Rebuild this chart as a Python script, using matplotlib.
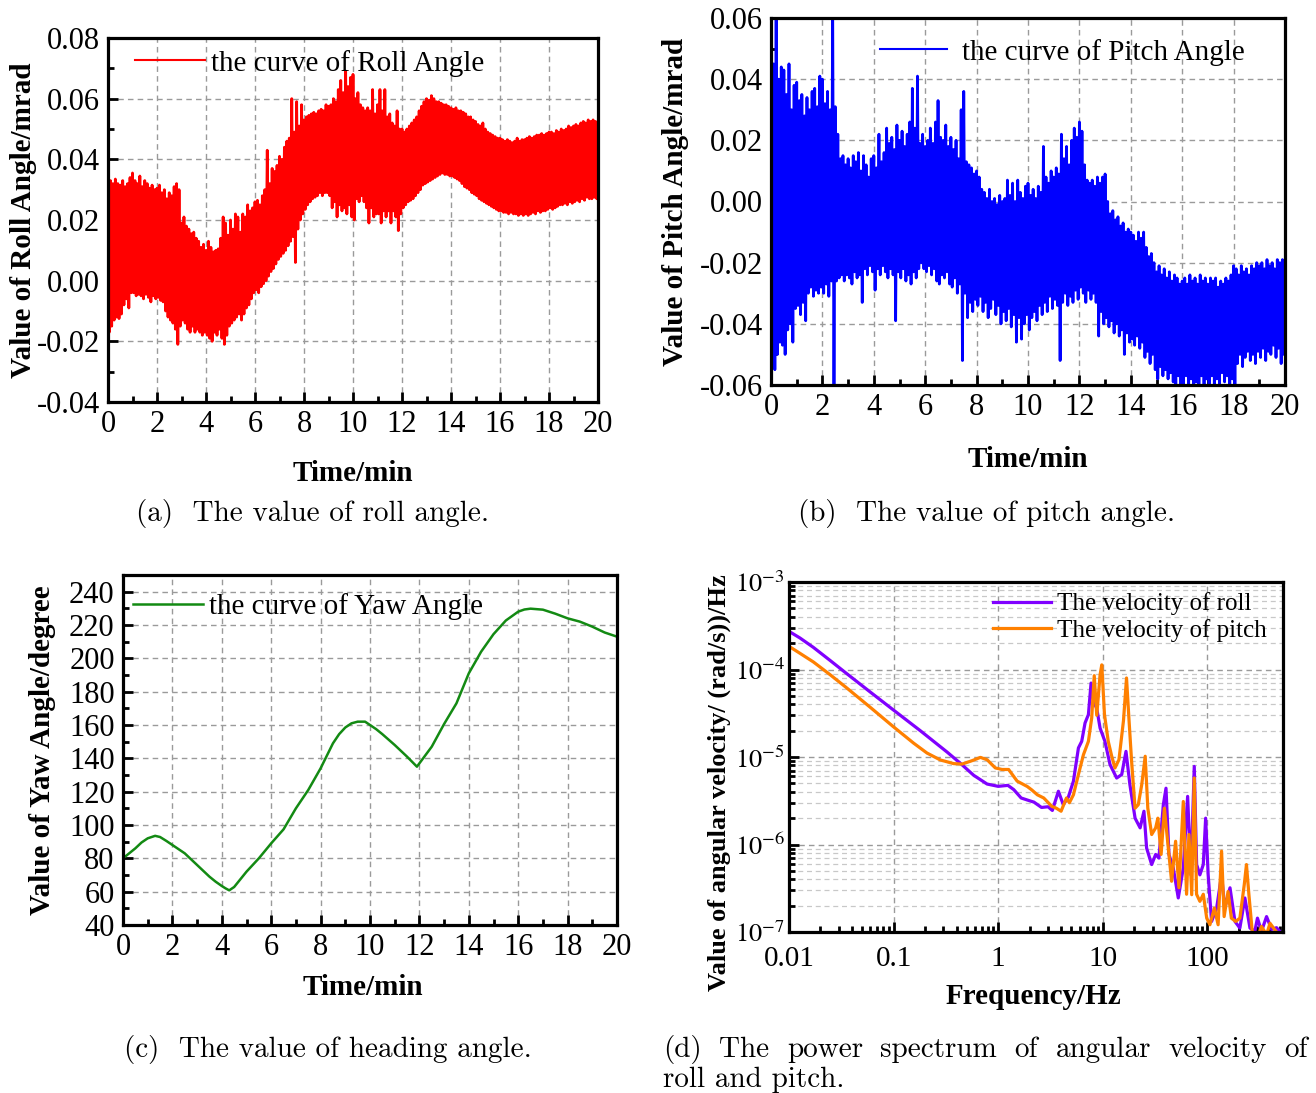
import numpy as np
import matplotlib
matplotlib.use('Agg')
import matplotlib.pyplot as plt
from matplotlib.ticker import MultipleLocator, FormatStrFormatter, FuncFormatter, LogLocator, NullFormatter

plt.rcParams['font.family'] = ['Liberation Serif', 'DejaVu Serif']
plt.rcParams['mathtext.fontset'] = 'stix'
plt.rcParams['axes.unicode_minus'] = False

# ---------------- data ----------------
# (a) roll angle: upper / lower extremes of the oscillation, every 0.1 min (x1e-3 mrad)
roll_hi = [
    31, 33, 32, 33.5, 32, 31.5, 33, 31, 32, 34,
    35.5, 33, 32, 34.5, 31, 33, 32, 30.5, 31.5, 30,
    30.5, 31.5, 29, 30, 27, 29, 28, 31, 32, 30,
    19, 21, 18, 17, 15.5, 16, 14, 13, 11, 12,
    10, 13, 11, 9.5, 10, 10.5, 14, 21, 19, 15,
    20, 17, 22, 21, 16, 22, 21, 25, 23, 24,
    26, 26.5, 25, 28, 30, 43, 32, 37, 36, 38,
    41, 40, 44, 46, 47, 60, 49, 59, 51, 58,
    53, 54, 54.5, 55, 55.5, 55, 56, 56.5, 56, 58,
    57.5, 58, 60, 59, 63, 66, 62, 69, 64, 67,
    68, 60, 62, 58, 57, 56, 57, 56, 63, 55,
    58, 63, 56, 63, 54, 55, 52, 51, 56, 50,
    50, 49, 50, 51, 52, 53, 54, 56, 57.5, 59,
    60, 59.5, 61, 60, 59, 59, 58.5, 58, 58, 57.5,
    57, 56.5, 57, 56, 56, 55.5, 55, 54, 54, 53,
    52.5, 51.5, 51, 52, 50, 49, 48.5, 48, 47.5, 47,
    47, 46.5, 46, 46.5, 46, 45.5, 46, 47, 46, 46.5,
    46.5, 47, 47.5, 47, 47.5, 48, 48, 48.5, 48, 48.5,
    49, 49, 48.5, 49.5, 49, 50, 49.5, 50, 51, 50.5,
    51, 51.5, 51, 52, 52.5, 52, 53, 52.5, 53, 52.5,
    52]
roll_lo = [
    -17, -15, -13, -12, -12.5, -11, -8, -6, -9, -4,
    -4, -5, -4.5, -5, -6, -4.5, -5.5, -7, -5, -6,
    -5.5, -6.5, -7, -10, -12, -13, -14, -16, -21, -15,
    -13, -14, -16, -17, -15, -17, -16, -17, -18, -17,
    -18, -19, -20, -17, -18, -16, -19, -21, -18, -15,
    -14, -13, -12, -11, -13, -11, -9, -8, -6, -4,
    -3, -4, -2, -1, 0, 1.5, 3, 4, 5.5, 7,
    8, 9, 10, 11.5, 13, 14.5, 6, 17, 20, 22,
    23.5, 25, 26, 27, 27.5, 28, 29, 28, 29, 29,
    28, 24, 26, 21, 25, 23, 24, 22, 25, 21,
    20, 27, 26, 28, 26, 24, 19, 24, 21, 22,
    22, 19, 23, 21, 23, 19, 23, 21, 16.5, 22,
    24, 25, 26, 26.5, 27, 28, 29, 30, 31.5, 32,
    32.5, 33, 33.5, 34, 34.5, 35, 35.5, 35, 35, 34.5,
    34.5, 34, 33.5, 33, 32, 31, 30.5, 30, 29, 28.5,
    28, 27, 26.5, 26, 25.5, 25, 24.5, 24, 23.5, 23,
    23, 22.5, 22.5, 22, 22.5, 22, 22, 21.5, 22, 21.5,
    22, 21.5, 22, 22.5, 22, 23, 22.5, 23, 23, 23.5,
    24, 23.5, 24, 24.5, 25, 25, 25.5, 25, 26, 25.5,
    26, 26.5, 26, 27, 26.5, 27.5, 27, 27, 27.5, 27,
    27]

# (b) pitch angle: upper / lower extremes, every 0.1 min (x1e-3 mrad)
pitch_hi = [
    50, 45, 62, 40, 44, 43, 35, 45, 30, 38,
    39, 33, 35, 28, 34, 30, 36, 37, 31, 41,
    40, 32, 36, 30, 65, 31, 22, 14, 15, 12,
    14, 11, 15, 13, 16, 10, 15, 12, 8, 14,
    15, 11, 22, 13, 16, 24, 19, 21, 17, 25,
    20, 23, 18, 22, 26, 37, 24, 41, 19, 22,
    18, 20, 24, 19, 26, 33, 21, 20, 25, 18,
    21, 17, 20, 14, 30, 36, 13, 12, 11, 9,
    10, 8, 4, 3, 1, 4, 0, 1, -1, 2,
    0, 1, 7, 2, 6, 0, 7, 3, 1, 5,
    6, 2, 4, 1, 5, 3, 18, 8, 6, 10,
    8, 11, 9, 22, 14, 18, 12, 20, 24, 21,
    26, 23, 12, 7, 6, 7, 5, 8, 6, 8,
    9, 0, -4, -3, -6, -5, -8, -7, -10, -9,
    -10, -11, -13, -10, -12, -10, -15, -18, -17, -20,
    -23, -21, -24, -22, -25, -23, -26, -24, -25, -27,
    -26, -25, -27, -24, -26, -25, -27, -24, -26, -25,
    -27, -25, -26, -25, -28, -26, -27, -25, -26, -24,
    -21, -22, -24, -21, -23, -22, -24, -21, -22, -20,
    -21, -20, -22, -19, -21, -20, -22, -19, -20, -19,
    -23]
pitch_lo = [
    -52, -55, -50, -46, -47, -50, -42, -40, -46, -35,
    -34, -37, -33, -39, -30, -28, -31, -29, -30, -28,
    -30, -27, -31, -26, -65, -26, -25, -24, -26, -24,
    -25, -27, -23, -25, -24, -33, -22, -24, -21, -23,
    -29, -22, -24, -21, -23, -25, -22, -24, -39, -23,
    -25, -22, -26, -24, -27, -23, -25, -22, -20, -22,
    -23, -21, -24, -22, -26, -27, -24, -25, -23, -27,
    -28, -25, -30, -27, -52, -30, -38, -33, -36, -32,
    -34, -31, -36, -33, -38, -35, -32, -37, -34, -40,
    -36, -39, -35, -41, -37, -46, -38, -45, -40, -37,
    -42, -38, -36, -39, -34, -37, -33, -36, -31, -35,
    -32, -34, -52, -33, -30, -34, -31, -33, -29, -32,
    -28, -30, -33, -29, -32, -30, -33, -44, -36, -40,
    -38, -41, -39, -43, -40, -44, -42, -50, -43, -46,
    -45, -47, -44, -48, -46, -51, -49, -53, -50, -55,
    -58, -54, -57, -55, -58, -56, -59, -61, -57, -62,
    -60, -57, -62, -58, -61, -59, -62, -57, -60, -58,
    -62, -57, -60, -58, -61, -56, -59, -57, -60, -58,
    -62, -53, -50, -54, -51, -49, -52, -50, -53, -49,
    -51, -48, -52, -49, -50, -47, -51, -48, -53, -50,
    -52]

# (c) yaw angle (degree) vs time (min)
yaw_t = [0, 0.25, 0.5, 0.75, 1, 1.3, 1.5, 1.75, 2, 2.5, 3, 3.5, 3.75, 4, 4.15, 4.3, 4.5,
         5, 5.5, 6, 6.5, 7, 7.5, 8, 8.5, 8.75, 9, 9.25, 9.5, 9.8, 10, 10.25, 10.5, 11,
         11.5, 11.9, 12.5, 13, 13.5, 14, 14.5, 15, 15.5, 16, 16.25, 16.5, 17, 17.5, 18,
         18.5, 19, 19.5, 20]
yaw_v = [80, 83, 86, 89.5, 92, 93.5, 92.8, 90.5, 88, 83, 76, 69, 66, 63.4, 62, 60.8,
         62.8, 72, 80, 89, 97.4, 110, 121, 134, 149, 154.5, 158.5, 161, 162, 162, 160,
         157.5, 154.5, 148, 141, 135, 147, 160.6, 173, 191, 204, 214.5, 222.7, 228, 229.3,
         229.8, 229.2, 226.8, 224, 222, 219, 215.5, 213]

# (d) power spectra
roll_f = [0.01, 0.01274, 0.0171, 0.0247, 0.0357, 0.0598, 0.0986, 0.18, 0.3245, 0.4355,
          0.5845, 0.784, 1.0, 1.24, 1.41, 1.66, 2.0, 2.2, 2.6, 3.0, 3.3, 3.77, 4.2, 4.7,
          5.25, 5.86, 6.3, 6.78, 7.3, 7.74, 8.15, 8.77, 9.44, 10.5, 11.75, 13.6, 15.2,
          16.7, 18.2, 20.4, 22.8, 24.8, 26.3, 29.4, 32.1, 34.5, 38, 40.3, 43, 47.3, 52.8,
          59, 64.9, 69.8, 75.1, 79.1, 85, 91.6, 96.5, 102, 110, 123, 137, 147, 165, 184,
          205, 229, 256, 285, 302, 330, 369, 412, 460, 500]
roll_p = [2.73e-4, 2.29e-4, 1.79e-4, 1.27e-4, 8.96e-5, 5.53e-5, 3.48e-5, 2.0e-5, 1.14e-5,
          8.47e-6, 6.17e-6, 4.91e-6, 4.62e-6, 4.74e-6, 4.24e-6, 3.4e-6, 3.16e-6, 3.05e-6,
          2.65e-6, 2.7e-6, 2.45e-6, 4.06e-6, 2.85e-6, 3.5e-6, 5.3e-6, 1.27e-5, 1.51e-5,
          2.45e-5, 3.05e-5, 7.0e-5, 4.3e-5, 3.6e-5, 2.14e-5, 1.51e-5, 8.2e-6, 5.75e-6,
          6.3e-6, 1.16e-5, 4.83e-6, 2.0e-6, 1.55e-6, 2.4e-6, 9.1e-7, 5.9e-7, 7.7e-7, 7.0e-7,
          2.85e-6, 4.4e-6, 7.7e-7, 5.4e-7, 2.45e-7, 5.4e-7, 3.55e-6, 4.5e-7, 7.8e-6, 5.9e-7,
          4.5e-7, 5.9e-7, 2.0e-6, 4.5e-7, 1.32e-7, 1.88e-7, 4.5e-7, 1.88e-7, 3.2e-7, 1.32e-7,
          1.11e-7, 2.45e-7, 1.11e-7, 1.02e-7, 1.44e-7, 1.02e-7, 1.5e-7, 1.07e-7, 1.12e-7,
          1.0e-7]
pitch_f = [0.01, 0.01274, 0.0171, 0.0247, 0.0357, 0.0598, 0.0986, 0.1555, 0.2087, 0.28,
           0.3758, 0.4518, 0.5636, 0.677, 0.785, 0.94, 1.09, 1.26, 1.52, 1.9, 2.1, 2.37,
           2.73, 3.26, 3.6, 4.0, 4.5, 4.8, 5.25, 5.86, 6.54, 7.3, 7.85, 8.3, 8.77, 9.44, 9.8,
           10.4, 11.3, 12.2, 13.1, 14.3, 15.8, 16.9, 17.8, 18.9, 20.4, 21.9, 23.6, 25.5, 27,
           29.4, 32.1, 33.7, 36.2, 38.9, 42.4, 45.6, 49.8, 53.6, 59, 63.4, 66.8, 71, 75.1,
           79, 85, 91.6, 98.8, 106, 117, 127, 137, 145, 158, 170, 187, 205, 226, 237, 250,
           269, 302, 330, 369, 398, 440, 480]
pitch_p = [1.84e-4, 1.53e-4, 1.22e-4, 8.73e-5, 6.15e-5, 3.7e-5, 2.24e-5, 1.44e-5, 1.11e-5,
           9.25e-6, 8.4e-6, 8.3e-6, 9.08e-6, 9.9e-6, 9.3e-6, 7.5e-6, 7.2e-6, 7.2e-6, 5.3e-6,
           4.6e-6, 4.2e-6, 3.7e-6, 3.4e-6, 2.73e-6, 2.6e-6, 2.4e-6, 3.4e-6, 3.0e-6, 3.7e-6,
           6.3e-6, 1.06e-5, 1.51e-5, 2.8e-5, 8.5e-5, 3.0e-5, 8.7e-5, 1.13e-4, 3.05e-5,
           1.51e-5, 1.02e-5, 7.5e-6, 9.3e-6, 2.6e-5, 8.0e-5, 2.8e-5, 8.9e-6, 2.6e-6, 2.85e-6,
           4.8e-6, 1.02e-5, 2.6e-6, 1.3e-6, 1.55e-6, 2.0e-6, 7.7e-7, 2.6e-6, 9.1e-7, 3.8e-7,
           1.09e-6, 3.2e-7, 3.1e-6, 2.7e-7, 1.3e-6, 2.67e-7, 5.75e-6, 2.7e-7, 2.24e-7, 2.7e-7,
           1.44e-7, 1.21e-7, 1.88e-7, 1.21e-7, 8.4e-7, 1.5e-7, 2.9e-7, 1.44e-7, 1.32e-7,
           1.44e-7, 3.5e-7, 5.9e-7, 2.7e-7, 1.02e-7, 8.5e-8, 1.16e-7, 9.3e-8, 1.26e-7,
           1.07e-7, 9.3e-8]

# ---------------- figure ----------------
W, H = 1316, 1093
fig = plt.figure(figsize=(W / 100, H / 100), dpi=100)


def axes_px(l, t, r, b):
    return fig.add_axes([l / W, 1 - b / H, (r - l) / W, (b - t) / H])


GRID = dict(color='#9a9a9a', linestyle=(0, (4, 3)), linewidth=1.0)
TICK_FS = 22
LABEL_FS = 21
LEG_FS = 21


def style(ax):
    for s in ax.spines.values():
        s.set_linewidth(2.3)
    ax.tick_params(which='both', direction='in', top=False, right=False,
                   labelsize=TICK_FS, pad=6)
    ax.tick_params(which='major', length=7, width=2)
    ax.tick_params(which='minor', length=4, width=2)
    ax.grid(True, which='major', **GRID)


def interleave(hi, lo, step=0.1):
    hi = np.asarray(hi, float) * 1e-3
    lo = np.asarray(lo, float) * 1e-3
    t = np.arange(len(hi)) * step
    tt = np.empty(2 * len(hi))
    vv = np.empty(2 * len(hi))
    tt[0::2], tt[1::2] = t, t + step / 2
    vv[0::2], vv[1::2] = hi, lo
    return tt, vv


def time_axis(ax):
    ax.set_xlim(0, 20)
    ax.xaxis.set_major_locator(MultipleLocator(2))
    ax.xaxis.set_minor_locator(MultipleLocator(1))


# (a)
axa = axes_px(108, 38, 598, 402)
style(axa)
t, v = interleave(roll_hi, roll_lo)
axa.plot(t, v, color='#ff0000', lw=2.0, label='the curve of Roll Angle')
time_axis(axa)
axa.set_ylim(-0.04, 0.08)
axa.yaxis.set_major_locator(MultipleLocator(0.02))
axa.yaxis.set_minor_locator(MultipleLocator(0.01))
axa.yaxis.set_major_formatter(FormatStrFormatter('%.2f'))
axa.set_xlabel('Time/min', fontsize=LABEL_FS, fontweight='bold')
axa.set_ylabel('Value of Roll Angle/mrad', fontsize=LABEL_FS, fontweight='bold')
axa.xaxis.set_label_coords(0.50, -0.16)
axa.yaxis.set_label_coords(-0.145, 0.50)
leg = axa.legend(loc='center left', bbox_to_anchor=(0.055, 0.931), frameon=False,
                 fontsize=LEG_FS, handlelength=2.4, handletextpad=0.2, borderpad=0,
                 borderaxespad=0)
leg.get_lines()[0].set_linewidth(1.5)

# (b)
axb = axes_px(771, 18, 1285, 385)
style(axb)
t, v = interleave(pitch_hi, pitch_lo)
axb.plot(t, v, color='#0000ff', lw=2.0, label='the curve of Pitch Angle')
time_axis(axb)
axb.set_ylim(-0.06, 0.06)
axb.yaxis.set_major_locator(MultipleLocator(0.02))
axb.yaxis.set_minor_locator(MultipleLocator(0.01))
axb.yaxis.set_major_formatter(FormatStrFormatter('%.2f'))
axb.set_xlabel('Time/min', fontsize=LABEL_FS, fontweight='bold')
axb.set_ylabel('Value of Pitch Angle/mrad', fontsize=LABEL_FS, fontweight='bold')
axb.xaxis.set_label_coords(0.50, -0.165)
axb.yaxis.set_label_coords(-0.16, 0.50)
leg = axb.legend(loc='center left', bbox_to_anchor=(0.212, 0.907), frameon=False,
                 fontsize=LEG_FS, handlelength=2.3, handletextpad=0.5, borderpad=0,
                 borderaxespad=0)
leg.get_lines()[0].set_linewidth(1.5)

# (c)
axc = axes_px(123, 575, 617, 925)
style(axc)
axc.plot(yaw_t, yaw_v, color='#138a13', lw=1.8, label='the curve of Yaw Angle')
time_axis(axc)
axc.set_ylim(40, 250)
axc.set_yticks(np.arange(40, 241, 20))
axc.yaxis.set_minor_locator(MultipleLocator(10))
axc.set_xlabel('Time/min', fontsize=LABEL_FS, fontweight='bold')
axc.set_ylabel('Value of Yaw Angle/degree', fontsize=LABEL_FS, fontweight='bold')
axc.xaxis.set_label_coords(0.485, -0.14)
axc.yaxis.set_label_coords(-0.135, 0.50)
axc.legend(loc='center left', bbox_to_anchor=(0.02, 0.909), frameon=False,
           fontsize=LEG_FS, handlelength=2.4, handletextpad=0.2, borderpad=0,
           borderaxespad=0)

# (d)
axd = axes_px(789, 582, 1283, 932)
style(axd)
axd.set_xscale('log')
axd.set_yscale('log')
axd.plot(roll_f, roll_p, color='#8000ff', lw=2.3, label='The velocity of roll')
axd.plot(pitch_f, pitch_p, color='#ff8000', lw=2.3, label='The velocity of pitch')
axd.set_xlim(0.01, 530)
axd.set_ylim(1e-7, 1e-3)
axd.xaxis.set_major_locator(LogLocator(base=10, numticks=10))
axd.xaxis.set_minor_locator(LogLocator(base=10, subs=np.arange(2, 10), numticks=20))
axd.yaxis.set_major_locator(LogLocator(base=10, numticks=10))
axd.yaxis.set_minor_locator(LogLocator(base=10, subs=np.arange(2, 10), numticks=20))
axd.xaxis.set_major_formatter(FuncFormatter(lambda x, p: '%g' % x))
axd.xaxis.set_minor_formatter(NullFormatter())
axd.yaxis.set_major_formatter(FuncFormatter(lambda y, p: r'$10^{%d}$' % round(np.log10(y))))
axd.yaxis.set_minor_formatter(NullFormatter())
axd.tick_params(axis='y', which='major', labelsize=19, pad=3)
axd.tick_params(axis='x', which='major', labelsize=21, pad=10)
axd.grid(True, which='minor', axis='y', color='#c8c8c8', linestyle=(0, (4, 3)), linewidth=0.9)
axd.set_xlabel('Frequency/Hz', fontsize=LABEL_FS, fontweight='bold')
axd.set_ylabel('Value of angular velocity/ (rad/s))/Hz', fontsize=19, fontweight='bold')
axd.xaxis.set_label_coords(0.494, -0.145)
axd.yaxis.set_label_coords(-0.118, 0.426)
axd.legend(loc='center left', bbox_to_anchor=(0.413, 0.899), frameon=False,
           fontsize=18, handlelength=2.3, handletextpad=0.25, borderpad=0,
           borderaxespad=0, labelspacing=0.15)

# ---------------- captions ----------------
CAP = dict(fontsize=21, family='cmr10')
fig.text(313 / W, 1 - 513 / H, '(a)  The value of roll angle.', ha='center', va='center', **CAP)
fig.text(987 / W, 1 - 513 / H, '(b)  The value of pitch angle.', ha='center', va='center', **CAP)
fig.text(328 / W, 1 - 1050 / H, '(c)  The value of heading angle.', ha='center', va='center', **CAP)

words = ['(d)', 'The', 'power', 'spectrum', 'of', 'angular', 'velocity', 'of']
texts = [fig.text(0, 1 - 1050 / H, w, ha='left', va='center', **CAP) for w in words]
fig.text(663 / W, 1 - 1080 / H, 'roll and pitch.', ha='left', va='center', **CAP)
fig.canvas.draw()
r = fig.canvas.get_renderer()
widths = [tx.get_window_extent(r).width for tx in texts]
x0, x1 = 663, 1308
gap = (x1 - x0 - sum(widths)) / (len(words) - 1)
x = x0
for tx, w in zip(texts, widths):
    tx.set_x(x / W)
    x += w + gap

fig.savefig('out.png', dpi=100)
